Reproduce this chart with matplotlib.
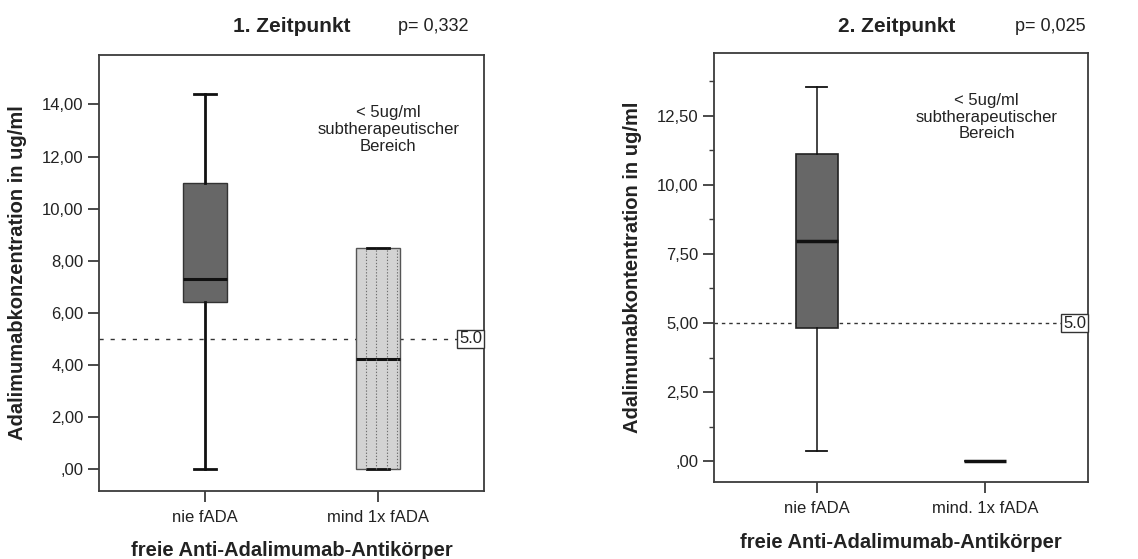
import numpy as np
import matplotlib
matplotlib.use("Agg")
import matplotlib.pyplot as plt
from matplotlib.ticker import FuncFormatter, MultipleLocator

plt.rcParams['font.family'] = ['Liberation Sans', 'DejaVu Sans']

# Data
groups_1 = ['nie fADA', 'mind 1x fADA']
groups_2 = ['nie fADA', 'mind. 1x fADA']

t1_whislo = [0.0, 0.0]
t1_q1 = [6.43, 0.0]
t1_med = [7.3, 4.23]
t1_q3 = [11.0, 8.47]
t1_whishi = [14.4, 8.47]

t2_whislo = [0.35, 0.0]
t2_q1 = [4.82, 0.0]
t2_med = [7.98, 0.0]
t2_q3 = [11.12, 0.0]
t2_whishi = [13.56, 0.0]

threshold = 5.0
p_values = ['p= 0,332', 'p= 0,025']
titles = ['1. Zeitpunkt', '2. Zeitpunkt']

txt = '#222222'
frame = '#3c3c3c'


def de_fmt(v, pos):
    s = f"{v:.2f}".replace('.', ',')
    if s.startswith('0,'):
        s = s[1:]
    return s


def make_stats(labels, lo, q1, med, q3, hi):
    out = []
    for i in range(len(labels)):
        out.append(dict(label=labels[i], whislo=lo[i], q1=q1[i], med=med[i],
                        q3=q3[i], whishi=hi[i], fliers=[]))
    return out


fig = plt.figure(figsize=(11.38, 5.59), dpi=100)
ax1 = fig.add_axes([0.087, 0.1216, 0.3383, 0.78])
ax2 = fig.add_axes([0.6274, 0.1377, 0.3286, 0.7675])

pos = [1, 2]
width = 0.25

# panel 1
st1 = make_stats(groups_1, t1_whislo, t1_q1, t1_med, t1_q3, t1_whishi)
b1 = ax1.bxp(st1, positions=pos, widths=width, patch_artist=True, showfliers=False,
             boxprops=dict(linewidth=1.0, edgecolor='#333333'),
             whiskerprops=dict(linewidth=2.0, color='#111111'),
             capprops=dict(linewidth=2.0, color='#111111'),
             medianprops=dict(linewidth=2.2, color='#111111'))
b1['boxes'][0].set_facecolor('#676767')
b1['boxes'][1].set_facecolor('#d3d3d3')
b1['boxes'][1].set_edgecolor('#555555')
# dotted pattern inside second box
for off in np.arange(-0.07, 0.125, 0.06):
    ax1.vlines(pos[1] + off, t1_q1[1], t1_q3[1], colors='#6f6f6f',
               linestyles=(0, (1.2, 1.6)), linewidth=0.8, zorder=2.5)
ax1.set_ylim(-0.85, 15.9)
ax1.yaxis.set_major_locator(MultipleLocator(2))
ax1.text(2.06, 13.04, '< 5ug/ml\nsubtherapeutischer\nBereich', ha='center', va='center',
         fontsize=12, color=txt, linespacing=1.15)

# panel 2
st2 = make_stats(groups_2, t2_whislo, t2_q1, t2_med, t2_q3, t2_whishi)
b2 = ax2.bxp(st2, positions=pos, widths=width, patch_artist=True, showfliers=False,
             boxprops=dict(linewidth=1.2, edgecolor='#222222'),
             whiskerprops=dict(linewidth=1.1, color='#111111'),
             capprops=dict(linewidth=1.3, color='#111111'),
             medianprops=dict(linewidth=2.5, color='#111111'))
for b in b2['boxes']:
    b.set_facecolor('#676767')
ax2.set_ylim(-0.76, 14.78)
ax2.yaxis.set_major_locator(MultipleLocator(2.5))
ax2.yaxis.set_minor_locator(MultipleLocator(1.25))
ax2.text(2.01, 12.46, '< 5ug/ml\nsubtherapeutischer\nBereich', ha='center', va='center',
         fontsize=12, color=txt, linespacing=1.15)

dashes = [(0, (3, 5)), (0, (2.5, 2.8))]
ylab_x = [-0.187, -0.193]
xlab_y = [-0.115, -0.119]
for i, ax in enumerate([ax1, ax2]):
    ax.set_xlim(0.387, 2.613)
    ax.axhline(threshold, color='#333333', linestyle=dashes[i], linewidth=1.0, zorder=1)
    ax.text(0.995, threshold, f"{threshold:.1f}", transform=ax.get_yaxis_transform(),
            ha='right', va='center', fontsize=12, color=txt,
            bbox=dict(boxstyle='square,pad=0.1', facecolor='white', edgecolor='#333333', linewidth=1.0))
    ax.yaxis.set_major_formatter(FuncFormatter(de_fmt))
    for s in ax.spines.values():
        s.set_color(frame)
        s.set_linewidth(1.3)
    ax.tick_params(axis='both', which='major', length=8, width=1.3, color=frame,
                   labelsize=12, labelcolor=txt, pad=3)
    ax.tick_params(axis='x', which='major', pad=5.5)
    ax.tick_params(axis='y', which='minor', length=3.5, width=1.0, color=frame)
    ax.set_ylabel('Adalimumabkonzentration in ug/ml' if i == 0 else 'Adalimumabkontentration in ug/ml',
                  fontsize=14.5, fontweight='bold', color=txt)
    ax.yaxis.set_label_coords(ylab_x[i], 0.5)
    ax.set_xlabel('freie Anti-Adalimumab-Antikörper', fontsize=14.5, fontweight='bold', color=txt)
    ax.xaxis.set_label_coords(0.5, xlab_y[i])

fig.text(0.2566, 0.952, titles[0], ha='center', va='center', fontsize=15, fontweight='bold', color=txt)
fig.text(0.3805, 0.952, p_values[0], ha='center', va='center', fontsize=13, color=txt)
fig.text(0.788, 0.952, titles[1], ha='center', va='center', fontsize=15, fontweight='bold', color=txt)
fig.text(0.9227, 0.952, p_values[1], ha='center', va='center', fontsize=13, color=txt)

fig.savefig('out.png', dpi=100)
